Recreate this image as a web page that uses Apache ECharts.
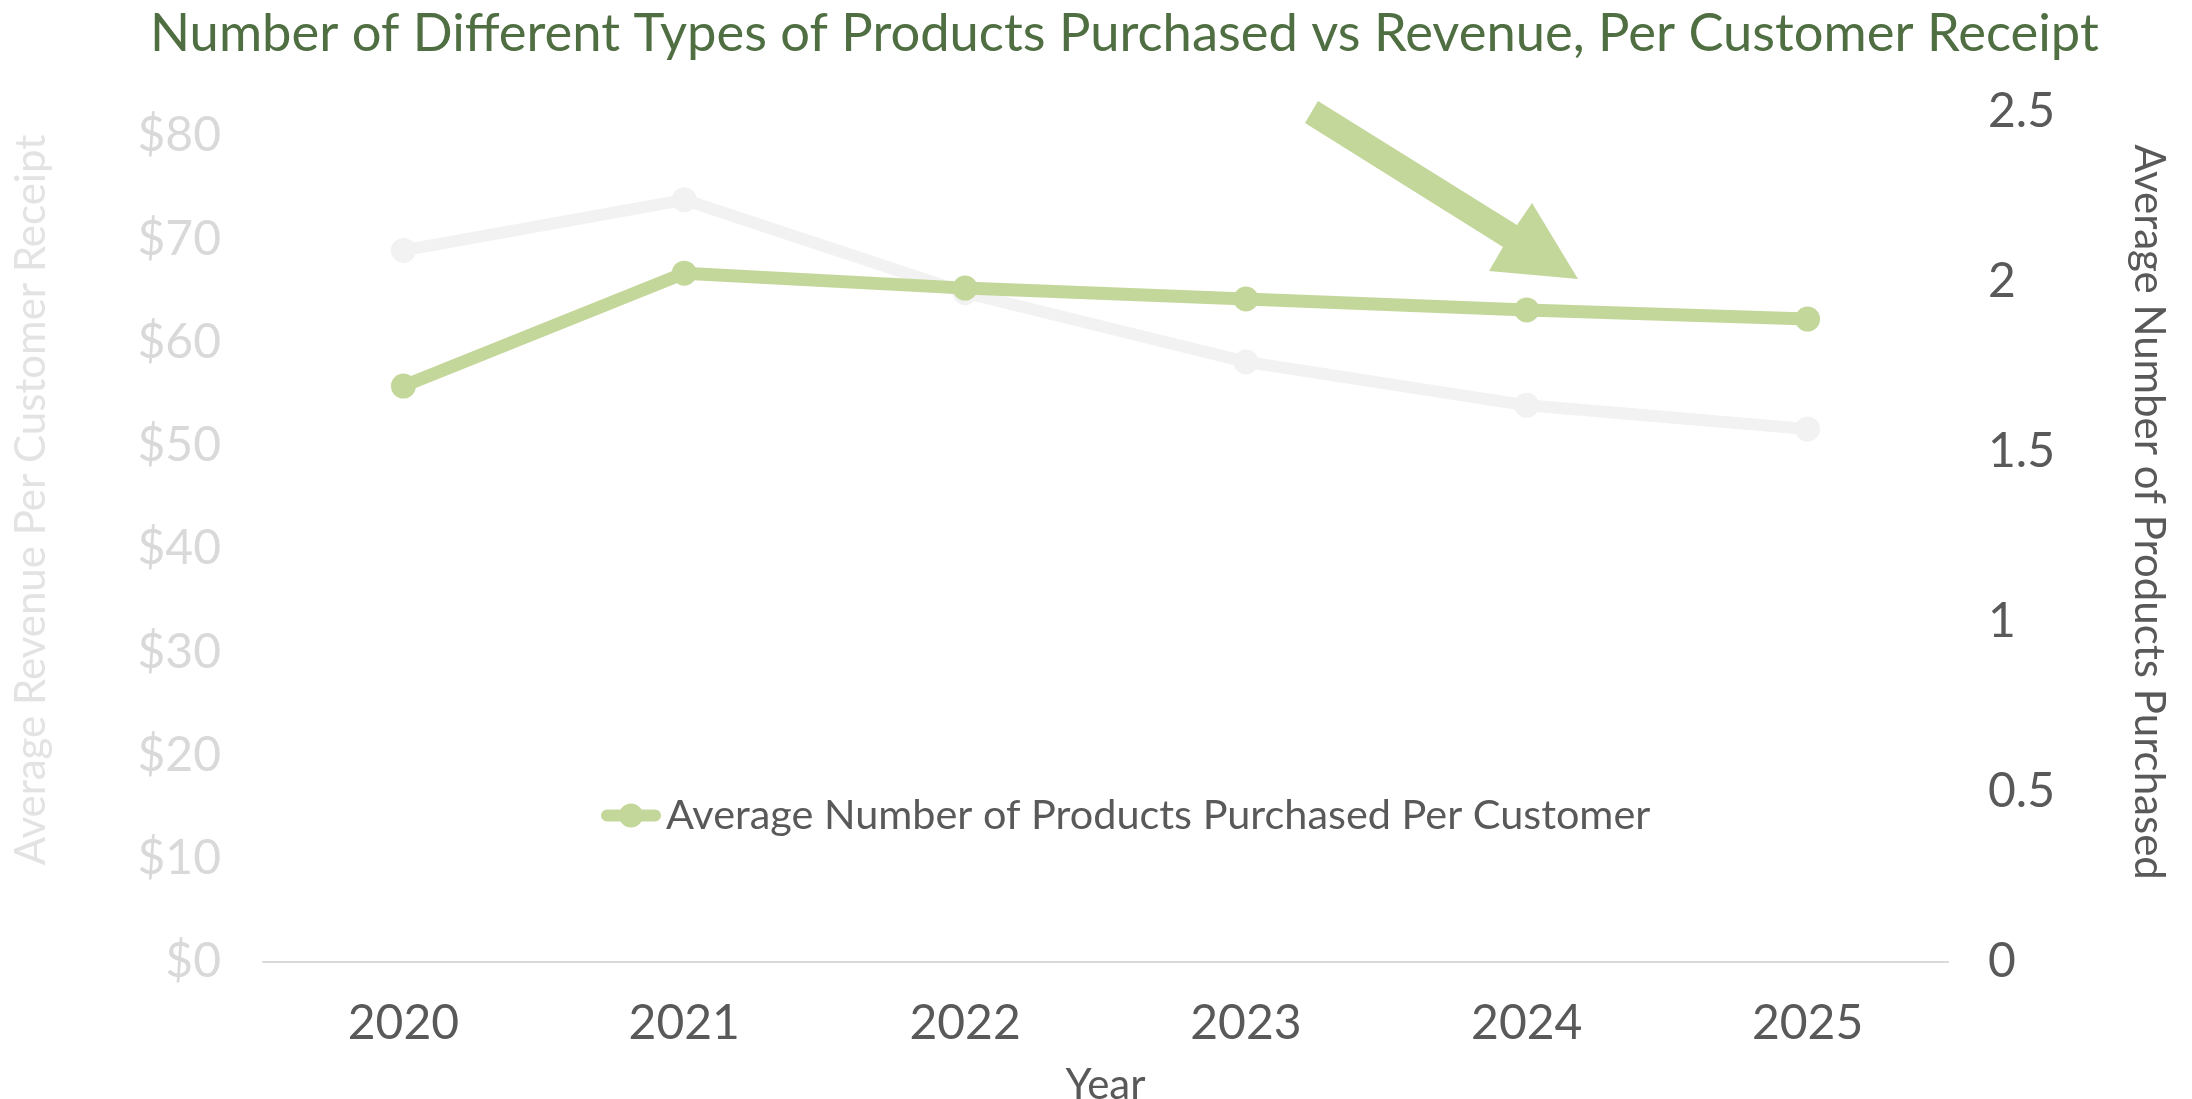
<!DOCTYPE html>
<html>
<head>
<meta charset="utf-8">
<title>Products Purchased vs Revenue</title>
<script src="https://cdn.jsdelivr.net/npm/echarts@6/dist/echarts.min.js"></script>
<style>
  html, body { margin: 0; padding: 0; background: #ffffff; }
  #chart { width: 2192px; height: 1099px; }
</style>
</head>
<body>
<div id="chart"></div>
<script>
// Years on the category axis
const years = ['2020', '2021', '2022', '2023', '2024', '2025'];
// Average revenue per customer receipt (dollars, left axis)
const revenuePerReceipt = [68.9, 73.8, 64.8, 58.1, 53.9, 51.6];
// Average number of different product types per customer (right axis)
const productsPerCustomer = [1.694, 2.026, 1.982, 1.950, 1.918, 1.891];
// Tick settings for the two value axes
const revenueAxis = { min: 0, max: 82.3, interval: 10 };
const productsAxis = { min: 0, max: 2.5, interval: 0.5 };

const FONT = 'Lato';
const GREEN = '#c4d79b';
const GREY_LINE = '#f2f2f2';
const productsName = 'Average Number of Products Purchased Per Customer';

// Legend swatch: thick rounded line with a dot in the middle
const legendIcon = 'path://M6,6.5 L54,6.5 A6,6 0 0,1 54,18.5 L6,18.5 A6,6 0 0,1 6,6.5 Z ' +
  'M30,0.5 A12,12 0 1,1 29.99,0.5 Z';

const chart = echarts.init(document.getElementById('chart'), null, { renderer: 'canvas' });

chart.setOption({
  backgroundColor: '#ffffff',
  animation: false,
  textStyle: { fontFamily: FONT },
  title: {
    text: 'Number of Different Types of Products Purchased vs Revenue, Per Customer Receipt',
    left: 145,
    top: 3,
    textStyle: { fontFamily: FONT, fontSize: 52.5, fontWeight: 'normal', color: '#4f6f42' }
  },
  legend: {
    data: [{ name: productsName, icon: legendIcon, itemStyle: { color: GREEN } }],
    left: 596,
    top: 790,
    itemWidth: 60,
    itemHeight: 25,
    itemGap: 10,
    textStyle: { fontFamily: FONT, fontSize: 41.4, color: '#595959' }
  },
  grid: {
    left: 263, right: 244, top: 112, bottom: 137,
    containLabel: false,
    outerBoundsMode: 'none'
  },
  xAxis: {
    type: 'category',
    data: years,
    boundaryGap: true,
    name: 'Year',
    nameLocation: 'middle',
    nameGap: 102,
    nameTextStyle: { fontFamily: FONT, fontSize: 42, color: '#595959' },
    axisLine: { show: true, lineStyle: { color: '#d9d9d9', width: 2 } },
    axisTick: { show: false },
    axisLabel: { fontFamily: FONT, fontSize: 48, color: '#595959', margin: 38 },
    splitLine: { show: false }
  },
  yAxis: [
    {
      type: 'value',
      position: 'left',
      min: revenueAxis.min,
      max: revenueAxis.max,
      interval: revenueAxis.interval,
      axisLine: { show: false },
      axisTick: { show: false },
      splitLine: { show: false },
      axisLabel: {
        fontFamily: FONT, fontSize: 48, color: '#d9d9d9', margin: 42,
        showMaxLabel: false,
        formatter: v => '$' + v
      }
    },
    {
      type: 'value',
      position: 'right',
      min: productsAxis.min,
      max: productsAxis.max,
      interval: productsAxis.interval,
      axisLine: { show: false },
      axisTick: { show: false },
      splitLine: { show: false },
      axisLabel: { fontFamily: FONT, fontSize: 48, color: '#595959', margin: 40 }
    }
  ],
  series: [
    {
      name: 'Average Revenue Per Customer Receipt',
      type: 'line',
      yAxisIndex: 0,
      data: revenuePerReceipt,
      symbol: 'circle',
      symbolSize: 25,
      lineStyle: { color: GREY_LINE, width: 12 },
      itemStyle: { color: GREY_LINE },
      z: 2
    },
    {
      name: productsName,
      type: 'line',
      yAxisIndex: 1,
      data: productsPerCustomer,
      symbol: 'circle',
      symbolSize: 25,
      lineStyle: { color: GREEN, width: 13 },
      itemStyle: { color: GREEN },
      z: 3
    }
  ],
  graphic: [
    {
      // Left axis title
      type: 'text',
      x: 31,
      y: 500,
      rotation: Math.PI / 2,
      style: {
        text: 'Average Revenue Per Customer Receipt',
        fontFamily: FONT, fontSize: 42, fill: '#e3e3e3',
        align: 'center', verticalAlign: 'middle'
      }
    },
    {
      // Right axis title
      type: 'text',
      x: 2149,
      y: 512,
      rotation: -Math.PI / 2,
      style: {
        text: 'Average Number of Products Purchased',
        fontFamily: FONT, fontSize: 42, fill: '#595959',
        align: 'center', verticalAlign: 'middle'
      }
    },
    {
      // Downward trend arrow
      type: 'polygon',
      shape: {
        points: [
          [1318, 101], [1517, 225], [1532, 203], [1578, 279],
          [1489, 271], [1503, 247], [1305, 123]
        ]
      },
      style: { fill: GREEN },
      z: 10
    }
  ]
});
</script>
</body>
</html>
